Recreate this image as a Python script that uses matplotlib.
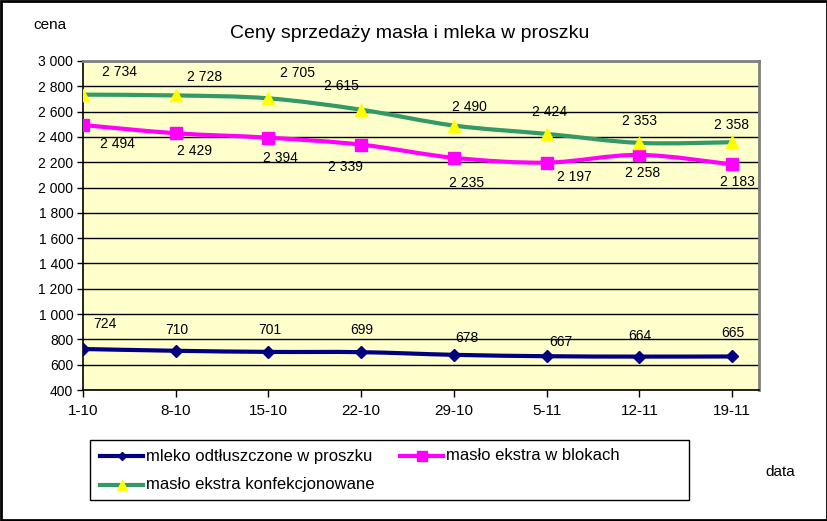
import numpy as np
import matplotlib
matplotlib.use("Agg")
import matplotlib.pyplot as plt
from matplotlib.path import Path
from matplotlib.patches import PathPatch, Rectangle
from matplotlib.lines import Line2D

plt.rcParams["font.family"] = ["Liberation Sans", "DejaVu Sans"]

dates = ["1-10", "8-10", "15-10", "22-10", "29-10", "5-11", "12-11", "19-11"]
mleko = [724, 710, 701, 699, 678, 667, 664, 665]
maslo_bloki = [2494, 2429, 2394, 2339, 2235, 2197, 2258, 2183]
maslo_konf = [2734, 2728, 2705, 2615, 2490, 2424, 2353, 2358]

# label offsets in pixels (dx, dy up)
off_mleko = [(22, 25), (1, 21), (1, 22), (1, 22), (13, 17), (14, 14), (0, 21), (1, 23)]
off_bloki = [(34, -19), (19, -18), (12, -20), (-16, -22), (13, -25), (28, -14), (3, -18), (5, -18)]
off_konf = [(37, 23), (29, 18), (29, 25), (-20, 24), (16, 19), (3, 22), (0, 22), (-1, 17)]

W, H = 828, 521


def fmt(v):
    return f"{v:,}".replace(",", " ")


def smooth_path(x, y):
    # Catmull-Rom style bezier through data points (Excel "smoothed line")
    x = np.asarray(x, float)
    y = np.asarray(y, float)
    verts = [(x[0], y[0])]
    codes = [Path.MOVETO]
    n = len(x)
    for i in range(n - 1):
        p0 = i - 1 if i > 0 else i
        p3 = i + 2 if i + 2 < n else i + 1
        c1 = (x[i] + (x[i + 1] - x[p0]) / 6, y[i] + (y[i + 1] - y[p0]) / 6)
        c2 = (x[i + 1] - (x[p3] - x[i]) / 6, y[i + 1] - (y[p3] - y[i]) / 6)
        verts += [c1, c2, (x[i + 1], y[i + 1])]
        codes += [Path.CURVE4] * 3
    return Path(verts, codes)


def fx(px):
    return px / W


def fy(py):
    return 1 - py / H


fig = plt.figure(figsize=(W / 100, H / 100), dpi=100)
ax = fig.add_axes([fx(83), fy(390), (759 - 83) / W, (390 - 61) / H])
ax.set_facecolor("#FFFFCC")

xs = np.arange(len(dates))
series = [
    (mleko, "#000080", "D", "#000080", 6, off_mleko, "mleko odtłuszczone w proszku"),
    (maslo_bloki, "#FF00FF", "s", "#FF00FF", 9, off_bloki, "masło ekstra w blokach"),
    (maslo_konf, "#339966", "^", "#FFFF00", 9, off_konf, "masło ekstra konfekcjonowane"),
]
for vals, col, mk, mcol, ms, offs, name in series:
    ax.add_patch(PathPatch(smooth_path(xs, vals), fill=False, edgecolor=col,
                           lw=3, zorder=3, capstyle="round", joinstyle="round"))
    ax.plot(xs, vals, ls="none", marker=mk, ms=ms, color=mcol, mec=mcol, zorder=4)
    for xi, v, (dx, dy) in zip(xs, vals, offs):
        ax.annotate(fmt(v), (xi, v), xytext=(dx, dy), textcoords="offset pixels",
                    ha="center", va="center", fontsize=10, zorder=5)

ax.set_xlim(0, 7.29)
ax.set_ylim(400, 3000)
ax.set_yticks(range(400, 3001, 200))
ax.set_yticklabels([fmt(v) for v in range(400, 3001, 200)], fontsize=10)
ax.set_xticks(xs)
ax.set_xticklabels(dates, fontsize=11)
ax.grid(axis="y", color="black", lw=1)
ax.set_axisbelow(True)
ax.tick_params(axis="y", length=4, width=1, pad=3)
ax.tick_params(axis="x", length=5, width=1, pad=5)
for s in ("top", "right"):
    ax.spines[s].set_color("#808080")
    ax.spines[s].set_linewidth(2)
for s in ("left", "bottom"):
    ax.spines[s].set_color("black")
    ax.spines[s].set_linewidth(1.2)

fig.text(fx(410), fy(33), "Ceny sprzedaży masła i mleka w proszku",
         ha="center", va="center", fontsize=14)
fig.text(fx(50), fy(25), "cena", ha="center", va="center", fontsize=11)
fig.text(fx(780), fy(472), "data", ha="center", va="center", fontsize=11)

# legend box (Excel style, row-major)
fig.patches.append(Rectangle((fx(90), fy(500)), (689 - 90) / W, (500 - 440) / H,
                             transform=fig.transFigure, fill=False,
                             edgecolor="black", lw=1))
slots = [(100, 456), (400, 456), (100, 485)]
for (vals, col, mk, mcol, ms, offs, name), (lx, ly) in zip(series, slots):
    fig.lines.append(Line2D([fx(lx), fx(lx + 43)], [fy(ly), fy(ly)], color=col, lw=3,
                            transform=fig.transFigure))
    fig.lines.append(Line2D([fx(lx + 21.5)], [fy(ly)], marker=mk, ms=ms * 0.75,
                            color=mcol, mec=mcol, ls="none",
                            transform=fig.transFigure))
    fig.text(fx(lx + 46), fy(ly), name, ha="left", va="center", fontsize=12)

fig.patches.append(Rectangle((0.001, 0.001), 0.998, 0.997, transform=fig.transFigure,
                             fill=False, edgecolor="black", lw=2))

fig.savefig("out.png", dpi=100)
